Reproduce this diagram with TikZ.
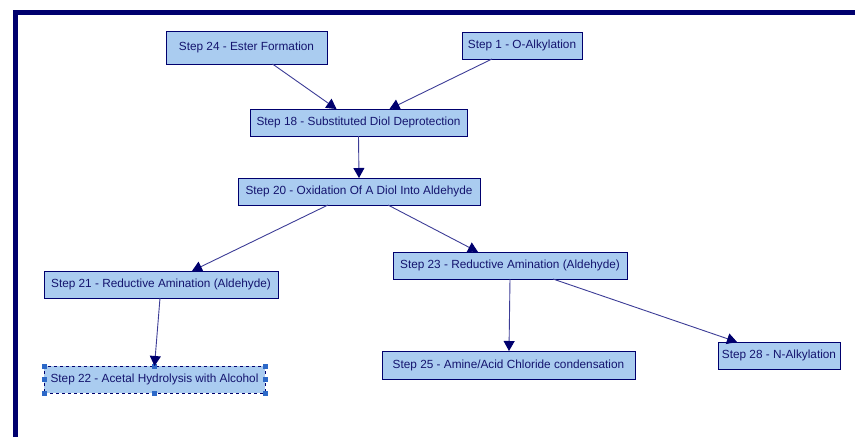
\documentclass[tikz,border=0pt]{standalone}
\usepackage{fontspec}
\setmainfont{Liberation Sans}
\usetikzlibrary{arrows.meta}
\definecolor{navyline}{RGB}{0,0,110}
\definecolor{boxfill}{RGB}{170,204,240}
\definecolor{boxtext}{RGB}{20,20,110}
\definecolor{edgeline}{RGB}{60,60,150}
\definecolor{handleblue}{RGB}{45,105,200}
\tikzset{
	stepnode/.style={draw=navyline,fill=boxfill,rectangle,outer sep=0pt,inner sep=0pt,minimum height=27pt,text=boxtext,font=\fontsize{11.8}{13}\selectfont},
	flow/.style={draw=edgeline,line width=0.9pt,-{Triangle[length=10pt,width=11pt,fill=navyline,color=navyline]}},
	handle/.style={fill=handleblue}
}
\begin{document}
\begin{tikzpicture}[x=1pt,y=-1pt]
	\useasboundingbox (0,0) rectangle (855,437);

	% outer frame
	\draw[navyline,line width=5pt] (15,437) -- (15,12.5) -- (855,12.5);

	\begin{scope}[every node/.style={stepnode}]
		\node[minimum width=161pt,minimum height=33pt] (step_24) at (246.5,47.5) {Step 24 - Ester Formation};
		\node[minimum width=120pt] (step_1) at (522,45.5) {Step 1 - O-Alkylation};
		\node[minimum width=217pt] (step_18) at (358.5,122.5) {Step 18 - Substituted Diol Deprotection};
		\node[minimum width=242pt] (step_20) at (359,191.5) {Step 20 - Oxidation Of A Diol Into Aldehyde};
		\node[minimum width=234pt] (step_21) at (161,284.5) {Step 21 - Reductive Amination (Aldehyde)};
		\node[minimum width=234pt] (step_23) at (510,265.5) {Step 23 - Reductive Amination (Aldehyde)};
		\node[minimum width=253pt,minimum height=28pt] (step_25) at (508.5,365) {Step 25 - Amine/Acid Chloride condensation};
		\node[minimum width=122pt] (step_28) at (779,355.5) {Step 28 - N-Alkylation};
		\node[minimum width=221pt,dashed] (step_22) at (154.5,379.5) {Step 22 - Acetal Hydrolysis with Alcohol};
	\end{scope}

	% selection handles
	\foreach \a in {north west,north,north east,west,east,south west,south,south east}
		\fill[handle] ([shift={(-2.5,-2.5)}]step_22.\a) rectangle ++(5,5);

	\draw[flow] ([xshift=26pt]step_24.south) -- ([xshift=-22pt]step_18.north);
	\draw[flow] ([xshift=-30pt]step_1.south) -- ([xshift=31pt]step_18.north);
	\draw[flow] (step_18.south) -- (step_20.north);
	\draw[flow] ([xshift=-31pt]step_20.south) -- ([xshift=31pt]step_21.north);
	\draw[flow] ([xshift=29pt]step_20.south) -- ([xshift=-32pt]step_23.north);
	\draw[flow] ([xshift=-1pt]step_21.south) -- (step_22.north);
	\draw[flow] (step_23.south) -- ([xshift=0.5pt]step_25.north);
	\draw[flow] ([xshift=43pt]step_23.south) -- ([xshift=-42pt]step_28.north);
\end{tikzpicture}
\end{document}
